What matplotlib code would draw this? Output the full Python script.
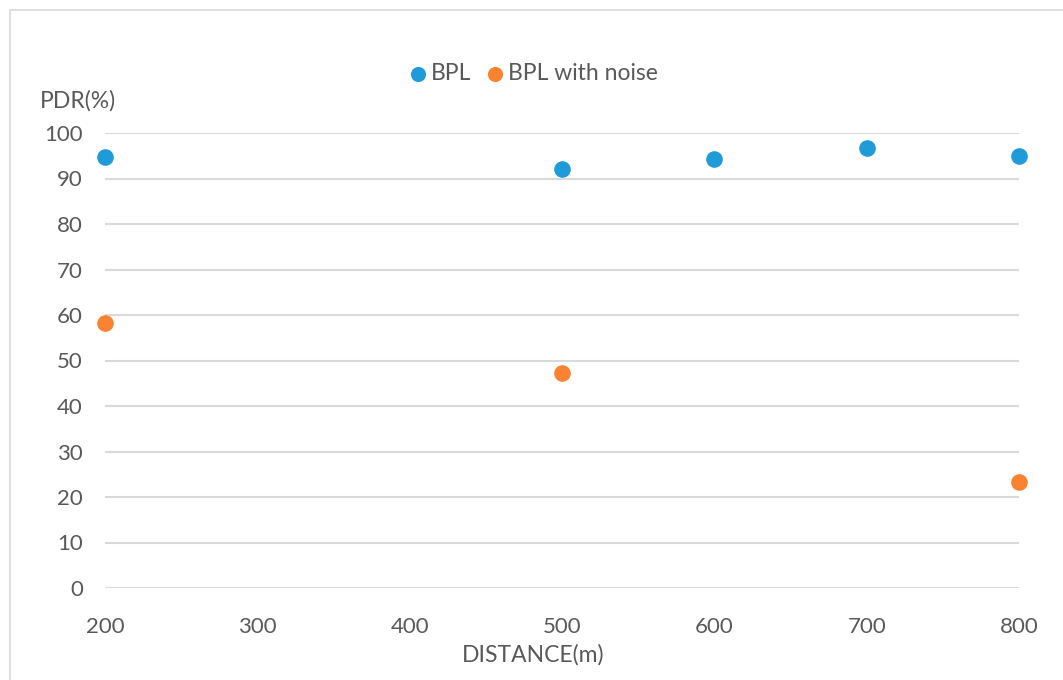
import matplotlib.pyplot as plt
from matplotlib.patches import Rectangle

plt.rcParams['font.family'] = ['Lato', 'DejaVu Sans']

# data
bpl_dist = [200, 500, 600, 700, 800]
bpl_pdr = [94.8, 92.1, 94.3, 96.7, 94.9]
noise_dist = [200, 500, 800]
noise_pdr = [58.2, 47.3, 23.3]

text_col = '#595959'
blue = '#1F9BDA'
orange = '#FA8230'

fig = plt.figure(figsize=(10.63, 6.8), dpi=100)
fig.patches.append(Rectangle((10 / 1063, -0.01), 1.02, 1 - 10 / 680 + 0.01,
                             transform=fig.transFigure, fill=False,
                             edgecolor='#D9D9D9', linewidth=1.2))

ax = fig.add_axes([105 / 1063, 1 - 588 / 680, (1019 - 105) / 1063, (588 - 133) / 680])
ax.scatter(bpl_dist, bpl_pdr, s=120, color=blue, label='BPL', clip_on=False, zorder=3)
ax.scatter(noise_dist, noise_pdr, s=120, color=orange, label='BPL with noise', clip_on=False, zorder=3)

ax.set_xlim(200, 800)
ax.set_ylim(0, 100)
ax.set_xticks(range(200, 801, 100))
ax.set_yticks(range(0, 101, 10))
ax.grid(axis='y', color='#D9D9D9', linewidth=1.5)
ax.set_axisbelow(True)
for s in ax.spines.values():
    s.set_visible(False)
ax.tick_params(length=0, labelsize=16, colors=text_col, pad=16)
ax.tick_params(axis='x', pad=21)

fig.text(533 / 1063, 1 - 655 / 680, 'DISTANCE(m)', fontsize=16.5, color=text_col, va='center', ha='center')
fig.text(40 / 1063, 1 - 101 / 680, 'PDR(%)', fontsize=16.5, color=text_col, va='center', ha='left')

leg = fig.legend(loc='center', bbox_to_anchor=(533 / 1063, 1 - 74 / 680), ncol=2, frameon=False,
                 fontsize=16.5, handlelength=0.9, handletextpad=0.1, columnspacing=0.6,
                 markerscale=0.9)
for t in leg.get_texts():
    t.set_color(text_col)

fig.savefig('out.png', dpi=100)
